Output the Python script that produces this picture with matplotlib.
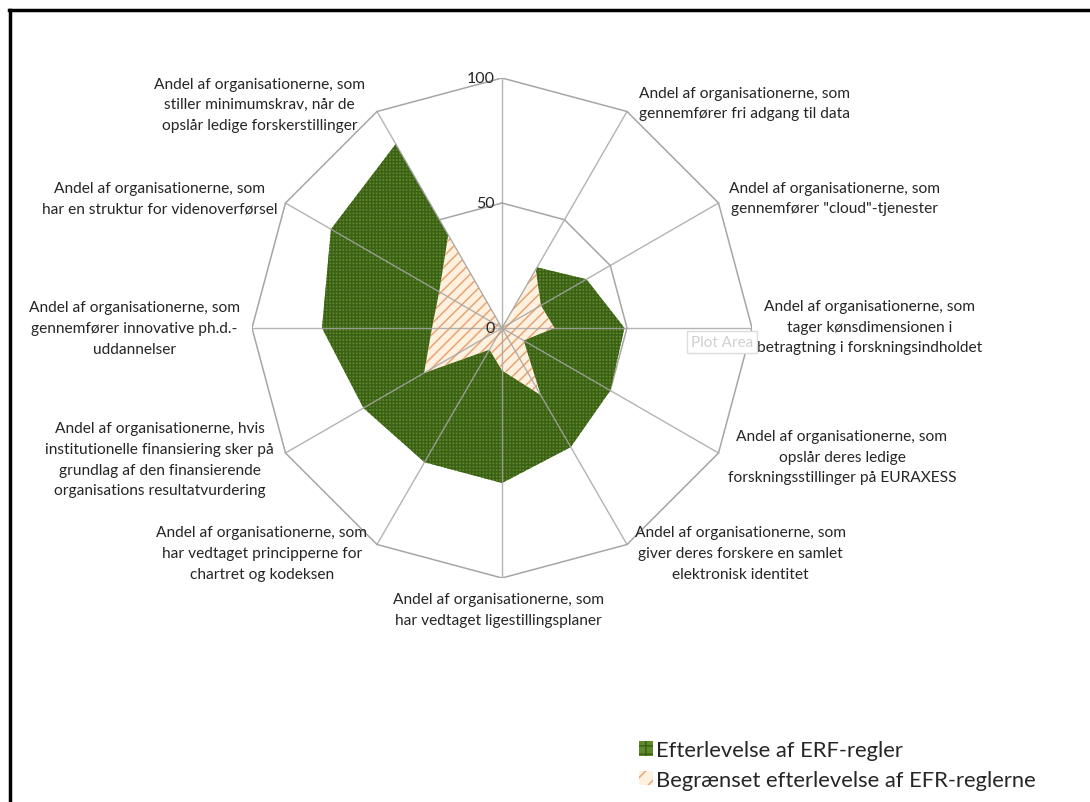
import numpy as np
import matplotlib
matplotlib.use("Agg")
import matplotlib.pyplot as plt
from matplotlib.patches import Patch
from matplotlib.lines import Line2D

# ---------------- data ----------------
categories = [
    "",
    "Andel af organisationerne, som\ngennemfører fri adgang til data",
    "Andel af organisationerne, som\ngennemfører \"cloud\"-tjenester",
    "Andel af organisationerne, som\ntager kønsdimensionen i\nbetragtning i forskningsindholdet",
    "Andel af organisationerne, som\nopslår deres ledige\nforskningsstillinger på EURAXESS",
    "Andel af organisationerne, som\ngiver deres forskere en samlet\nelektronisk identitet",
    "Andel af organisationerne, som\nhar vedtaget ligestillingsplaner",
    "Andel af organisationerne, som\nhar vedtaget principperne for\nchartret og kodeksen",
    "Andel af organisationerne, hvis\ninstitutionelle finansiering sker på\ngrundlag af den finansierende\norganisations resultatvurdering",
    "Andel af organisationerne, som\ngennemfører innovative ph.d.-\nuddannelser",
    "Andel af organisationerne, som\nhar en struktur for videnoverførsel",
    "Andel af organisationerne, som\nstiller minimumskrav, når de\nopslår ledige forskerstillinger",
]
efterlevelse = [0, 28, 39, 49, 50, 55, 62, 62, 64, 72, 79, 85]
begraenset = [0, 27, 18, 21, 10, 31, 17, 10, 36, 28, 29, 43]
series_names = ["Efterlevelse af ERF-regler", "Begrænset efterlevelse af EFR-reglerne"]
tick_values = [0, 50, 100]
tick_labels = ["0", "50", "100"]

# label anchor positions (layout, in chart units)
label_pos = [
    None, (97, 90), (133, 52), (147, 0.5), (136, -51.5), (95.5, -90), (-1.5, -112.5),
    (-96, -90), (-137, -52.5), (-147, 0), (-137, 52), (-97, 89.5),
]

plt.rcParams['font.family'] = ['Lato', 'DejaVu Sans']
plt.rcParams['hatch.linewidth'] = 1.1

W, H = 1090, 803
fig = plt.figure(figsize=(W / 100, H / 100), dpi=100)
fig.patch.set_facecolor('white')

# axes: center (502,329) px, radius 250 px
cx, cy, R = 502, 329, 250
ax = fig.add_axes([(cx - R) / W, (H - cy - R) / H, 2 * R / W, 2 * R / H])
ax.set_xlim(-100, 100)
ax.set_ylim(-100, 100)
ax.set_axis_off()

n = len(categories)
ang = np.deg2rad(np.arange(n) * 360.0 / n)
sx, sy = np.sin(ang), np.cos(ang)

def xy(vals):
    v = np.asarray(vals, float)
    return np.append(v * sx, v[0] * sx[0]), np.append(v * sy, v[0] * sy[0])

green_face, green_hatch = '#5e8a2b', '#3b6016'
peach_face, peach_hatch = '#fff1df', '#e9a474'

grid_c = '#a6a6a6'
# rings (below fills)
for t in tick_values[1:]:
    gx, gy = xy([t] * n)
    ax.plot(gx, gy, color=grid_c, lw=1.1, zorder=1, solid_joinstyle='miter')

# fills
gx, gy = xy(efterlevelse)
ax.fill(gx, gy, facecolor=green_face, edgecolor=green_hatch, hatch='+++++', lw=0, zorder=2)
hx, hy = xy(begraenset)
ax.fill(hx, hy, facecolor=peach_face, edgecolor=peach_hatch, hatch='///', lw=0, zorder=3)

# spokes (above fills)
for i in range(n):
    ax.plot([0, 100 * sx[i]], [0, 100 * sy[i]], color=grid_c, lw=1.0, zorder=4, alpha=0.85)

txt_c = '#262626'
for v, lab in zip(tick_values, tick_labels):
    ax.text(-3, v, lab, ha='right', va='center', fontsize=11.5, color=txt_c, zorder=5)

for lab, pos in zip(categories, label_pos):
    if pos is None or not lab:
        continue
    ax.text(pos[0], pos[1], lab, ha='center', va='center', multialignment='center',
            fontsize=11.2, color=txt_c, linespacing=1.6, clip_on=False)

# "Plot Area" tooltip
fig.text(722 / W, 1 - 343 / H, "Plot Area", ha='center', va='center', fontsize=11,
         color='#d0d0d0',
         bbox=dict(boxstyle='square,pad=0.25', facecolor='white', edgecolor='#dcdcdc', lw=1))

# legend
handles = [Patch(facecolor=green_face, edgecolor=green_hatch, hatch='++', lw=0),
           Patch(facecolor=peach_face, edgecolor=peach_hatch, hatch='//', lw=0)]
fig.legend(handles, series_names, loc='upper left', bbox_to_anchor=(628 / W, 1 - 730 / H),
           frameon=False, fontsize=15.8, handlelength=0.65, handleheight=0.65,
           handletextpad=0.12, labelspacing=0.45, labelcolor=txt_c, borderpad=0)

# outer frame (left and top visible)
fig.add_artist(Line2D([10 / W, 10 / W], [0, 1 - 11 / H], color='black', lw=2.5))
fig.add_artist(Line2D([9 / W, 1], [1 - 11 / H, 1 - 11 / H], color='black', lw=2.5))

fig.savefig('out.png', dpi=100)
